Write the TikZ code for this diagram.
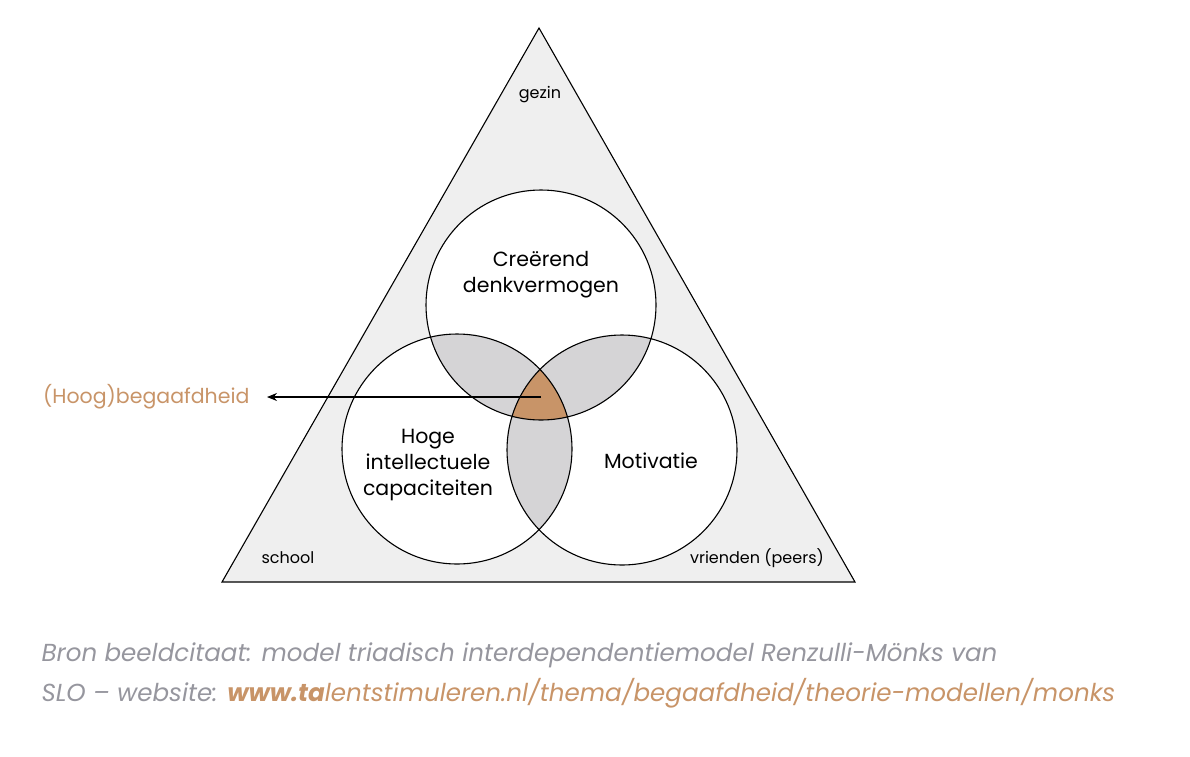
\documentclass[tikz,border=0pt]{standalone}
\usepackage{fontspec}
\setmainfont{Poppins}
\usepackage{xcolor}
\definecolor{Tan}{RGB}{200,148,104}
\definecolor{Tri}{RGB}{239,239,239}
\definecolor{Lens}{RGB}{213,212,214}
\definecolor{Cap}{RGB}{150,150,158}
\usetikzlibrary{arrows.meta}
\tikzstyle{Ring}=[draw=black,line width=1.1pt]
\tikzstyle{Word}=[font=\fontsize{16}{18}\selectfont,text=black]
\tikzstyle{Big}=[font=\fontsize{20.5}{26}\selectfont,align=center]
\tikzstyle{Edge}=[draw=black,line width=1.1pt,-{Stealth[length=10pt,width=8pt]}]
\tikzstyle{Caption}=[font=\fontsize{24.6}{38}\selectfont\itshape,text=Cap,anchor=west]
\def\Rad{115}

\begin{document}
\begin{tikzpicture}[x=1pt,y=-1pt]
        \useasboundingbox(0,0)rectangle(1190,756);
        \coordinate(a)at(539,28);
        \coordinate(b)at(222,582);
        \coordinate(c)at(855,582);
        \draw[Ring,fill=Tri](a)--(b)--(c)--cycle;
        \coordinate(T)at(541,305);
        \coordinate(L)at(457,449);
        \coordinate(R)at(622,450);
        \fill[white](T)circle(\Rad) (L)circle(\Rad) (R)circle(\Rad);
        \begin{scope}\clip(T)circle(\Rad);\fill[Lens](L)circle(\Rad) (R)circle(\Rad);\end{scope}
        \begin{scope}\clip(L)circle(\Rad);\fill[Lens](R)circle(\Rad);\end{scope}
        \begin{scope}\clip(T)circle(\Rad);\clip(L)circle(\Rad);\fill[Tan](R)circle(\Rad);\end{scope}
        \draw[Ring](T)circle(\Rad) (L)circle(\Rad) (R)circle(\Rad);
        \node[Word](gezin)at(540,95){gezin};
        \node[Word](school)at(288,558){school};
        \node[Word](peers)at(757,558){vrienden (peers)};
        \node[Big](creat)at(541,275){Creërend\\denkvermogen};
        \node[Big](intel)at(428,465){Hoge\\intellectuele\\capaciteiten};
        \node[Big](motiv)at(651,461){Motivatie};
        \coordinate(mid)at(541,397);
        \node[Big,text=Tan,anchor=east](gift)at(253,397){(Hoog)begaafdheid};
        \draw[Edge,shorten >=14pt](mid)--(gift.east);
        \node[Caption](src)at(38,655){Bron beeldcitaat: model triadisch interdependentiemodel Renzulli-Mönks van};
        \node[Caption](web)at(38,693){SLO – website: \textcolor{Tan}{\textbf{www.ta}lentstimuleren.nl/thema/begaafdheid/theorie-modellen/monks}};
    \end{tikzpicture}
\end{document}
